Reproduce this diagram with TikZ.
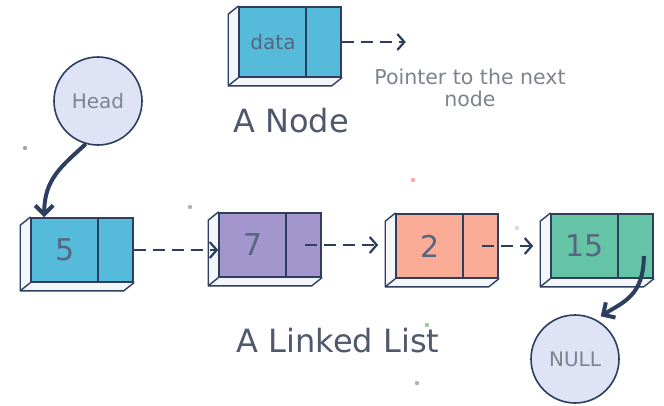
\documentclass[tikz,border=0pt]{standalone}
\usepackage{fontspec}
\setmainfont{DejaVu Sans}
\usetikzlibrary{arrows.meta, backgrounds, calc}
\definecolor{inkblue}{RGB}{45,62,95}
\definecolor{cellblue}{RGB}{86,186,218}
\definecolor{cellpurple}{RGB}{163,150,205}
\definecolor{cellsalmon}{RGB}{250,172,150}
\definecolor{cellgreen}{RGB}{102,196,166}
\definecolor{bubble}{RGB}{222,228,246}
\definecolor{slabwhite}{RGB}{244,246,250}
\definecolor{labelgray}{RGB}{80,88,108}
\definecolor{notegray}{RGB}{125,130,140}
\newcommand{\cellval}[1]{\makebox[68pt]{#1}\makebox[34pt]{}}
\tikzset{
  cellbox/.style  = {draw=inkblue, line width=1.6pt, inner sep=0pt, minimum height=64pt,
                     font=\fontsize{30}{30}\selectfont, text=inkblue!80},
  slab/.style     = {draw=inkblue, line width=1.4pt, fill=slabwhite, line join=round},
  bubblenode/.style = {circle, draw=inkblue, line width=1.6pt, fill=bubble, minimum size=88pt,
                     inner sep=0pt, font=\fontsize{20}{20}\selectfont, text=notegray},
  nextarr/.style  = {-{Straight Barb[length=7pt, width=16pt]}, line width=2.2pt,
                     color=inkblue, dash pattern=on 12pt off 7pt},
  bendarr/.style  = {-{Straight Barb[length=9pt, width=18pt]}, line width=4pt, color=inkblue},
  caption/.style  = {font=\fontsize{32}{32}\selectfont, text=labelgray},
  note/.style     = {font=\fontsize{20.5}{22}\selectfont, text=notegray, align=center},
}

\begin{document}
\begin{tikzpicture}[x=1pt, y=-1pt]
  \useasboundingbox (0,0) rectangle (664,405);

  % the single node on top
  \node[cellbox, fill=cellblue, minimum height=70pt, font=\fontsize{20}{20}\selectfont]
       (dat) at (290,42) {\cellval{data}};
  \coordinate (dat-tip) at ([xshift=64pt]dat.east);
  \draw[nextarr] (dat.east) -- (dat-tip);
  \node[note] (ptrnote) at (470,88) {Pointer to the next\\node};
  \node[caption] (nodecap) at (291,121) {A Node};

  % the list
  \node[cellbox, fill=cellblue]   (n5)  at (82,250)  {\cellval{5}};
  \node[cellbox, fill=cellpurple] (n7)  at (270,245) {\cellval{7}};
  \node[cellbox, fill=cellsalmon] (n2)  at (447,246) {\cellval{2}};
  \node[cellbox, fill=cellgreen]  (n15) at (602,246) {\cellval{15}};

  \node[bubblenode] (head) at (98,101)  {Head};
  \node[bubblenode] (nul)  at (575,359) {NULL};
  \node[caption] (listcap) at (338,341) {A Linked List};

  % slabs and dividers
  \begin{scope}[on background layer]
    \fill[white] (0,0) rectangle (664,405);
    \foreach \n in {dat,n5,n7,n2,n15}{
      \filldraw[slab] (\n.north west) -- ++(-10,8) |- ([shift={(-10,8)}]\n.south east)
                      -- (\n.south east) -- cycle;
      \draw[slab] (\n.south west) -- ++(-10,8);
    }
  \end{scope}
  \foreach \n in {dat,n5,n7,n2,n15}
    \draw[draw=inkblue, line width=1.6pt] ([xshift=68pt]\n.north west) -- ([xshift=68pt]\n.south west);

  % pointers
  \draw[nextarr] (n5.east) -- (n5.east -| n7.west);
  \draw[nextarr] ([xshift=-17pt]n7.east) -- ([xshift=-17pt]n7.east -| n2.west);
  \draw[nextarr] ([xshift=-17pt]n2.east) -- ([xshift=-17pt]n2.east -| n15.west);
  \draw[bendarr] (head.254) .. controls +(-24,22) and +(0,-38) .. ([xshift=14pt]n5.north west);
  \draw[bendarr] ([xshift=-10pt,yshift=-10pt]n15.east) .. controls +(0,40) and +(22,-14) ..
        ([yshift=6pt]nul.55);

  % specks
  \foreach \x/\y/\c in {25/148/inkblue!45, 190/207/gray!60, 413/180/red!35,
                        427/325/green!50!black!40, 417/383/gray!60, 517/228/gray!30}
    \fill[\c] (\x,\y) circle (2.2pt);
\end{tikzpicture}
\end{document}
